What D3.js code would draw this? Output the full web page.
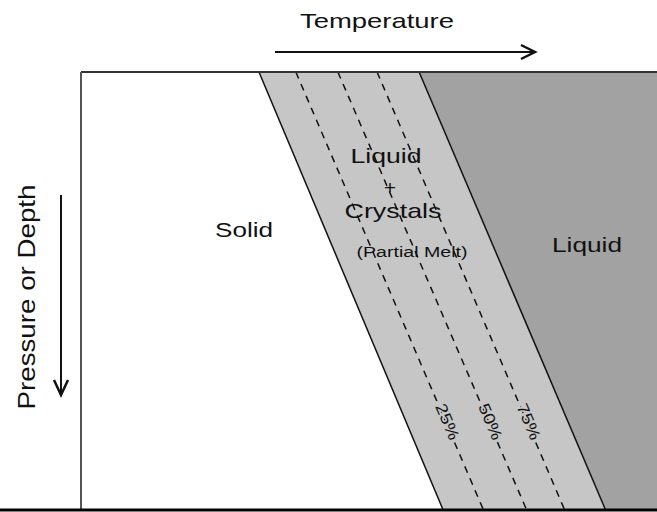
<!DOCTYPE html>
<html>
<head>
<meta charset="utf-8">
<script src="https://cdn.jsdelivr.net/npm/d3@7"></script>
<style>
    body { margin: 0; background: #fff; }
    text { font-family: "Liberation Sans", Arial, sans-serif; fill: #111; }
</style>
</head>
<body>
<div id="chart"></div>
<script>
// Melt fraction isopleths (0 = solidus, 100 = liquidus)
const meltFractions = [0, 25, 50, 75, 100];
// Temperature (0-100 scale) of each isopleth at the surface and at max depth
const isoTempTop = [30.9, 37.3, 44.6, 51.4, 58.7];
const isoTempBottom = [62.8, 69.8, 77.3, 83.9, 91.0];
const meltLabels = ["25%", "50%", "75%"];

const width = 657;
const height = 512;

const svg = d3.select("#chart").append("svg")
    .attr("width", width)
    .attr("height", height);

// Scales: temperature to the right, depth downwards
const x = d3.scaleLinear().domain([0, 100]).range([81, 657]);
const y = d3.scaleLinear().domain([0, 100]).range([72, 509]);

const lightGrey = "#c6c6c6";
const darkGrey = "#a2a2a2";

// Temperature of isopleth i at depth d
function isoAt(i, d) {
    return isoTempTop[i] + (isoTempBottom[i] - isoTempTop[i]) * d / 100;
}

const last = meltFractions.length - 1;

// Liquid field (right of liquidus)
svg.append("path")
    .attr("d", d3.line()([
        [x(isoTempTop[last]), y(0)], [x(100), y(0)],
        [x(100), y(100)], [x(isoTempBottom[last]), y(100)]
    ]))
    .attr("fill", darkGrey);

// Partial melt band
svg.append("path")
    .attr("d", d3.line()([
        [x(isoTempTop[0]), y(0)], [x(isoTempTop[last]), y(0)],
        [x(isoTempBottom[last]), y(100)], [x(isoTempBottom[0]), y(100)]
    ]))
    .attr("fill", lightGrey);

// Isopleths
svg.selectAll(".iso")
    .data(meltFractions)
    .enter()
    .append("line")
    .attr("class", "iso")
    .attr("x1", (d, i) => x(isoTempTop[i]))
    .attr("y1", y(0))
    .attr("x2", (d, i) => x(isoTempBottom[i]))
    .attr("y2", y(100))
    .attr("stroke", "#111")
    .attr("stroke-width", 1.5)
    .attr("stroke-dasharray", (d, i) => (i === 0 || i === last) ? null : "7,6");

// Percent labels along the dashed lines
const angle = Math.atan2(y(100) - y(0), x(isoTempBottom[0]) - x(isoTempTop[0])) * 180 / Math.PI;
const labelDepth = 80;
svg.selectAll(".meltLabel")
    .data(meltLabels)
    .enter()
    .append("text")
    .attr("class", "meltLabel")
    .attr("transform", (d, i) => "translate(" + (x(isoAt(i + 1, labelDepth)) + 2) + "," + y(labelDepth) + ") rotate(" + angle + ")")
    .attr("text-anchor", "middle")
    .attr("dy", "0.35em")
    .attr("font-size", 16)
    .attr("textLength", 38)
    .attr("lengthAdjust", "spacingAndGlyphs")
    .attr("stroke", lightGrey)
    .attr("stroke-width", 3)
    .attr("paint-order", "stroke")
    .text(d => d);

// Frame: top, left, bottom
svg.append("line")
    .attr("x1", x(0)).attr("y1", y(0)).attr("x2", x(100)).attr("y2", y(0))
    .attr("stroke", "#333").attr("stroke-width", 2);
svg.append("line")
    .attr("x1", x(0)).attr("y1", y(0)).attr("x2", x(0)).attr("y2", y(100))
    .attr("stroke", "#555").attr("stroke-width", 2);
svg.append("line")
    .attr("x1", 0).attr("y1", y(100) + 1).attr("x2", width).attr("y2", y(100) + 1)
    .attr("stroke", "#000").attr("stroke-width", 3);

// Field labels
function label(str, cx, cy, size, len) {
    svg.append("text")
        .attr("x", cx)
        .attr("y", cy)
        .attr("text-anchor", "middle")
        .attr("font-size", size)
        .attr("textLength", len)
        .attr("lengthAdjust", "spacingAndGlyphs")
        .text(str);
}
label("Temperature", 377, 28, 21, 154);
label("Solid", 244, 237, 21, 58);
label("Liquid", 587, 252, 21, 70);
label("Liquid", 386, 163, 21, 71);
label("+", 390, 194, 19, 12);
label("Crystals", 393, 218, 21, 97);
label("(Partial Melt)", 412, 257, 14, 111);

// Pressure label (vertical)
svg.append("text")
    .attr("transform", "translate(35,297) rotate(-90)")
    .attr("text-anchor", "middle")
    .attr("font-size", 24)
    .attr("textLength", 225)
    .attr("lengthAdjust", "spacingAndGlyphs")
    .text("Pressure or Depth");

// Temperature arrow
svg.append("line")
    .attr("x1", 275).attr("y1", 52).attr("x2", 534).attr("y2", 52)
    .attr("stroke", "#111").attr("stroke-width", 2);
svg.append("path")
    .attr("d", "M521,45L535,52L521,59")
    .attr("fill", "none").attr("stroke", "#111").attr("stroke-width", 2.5);

// Depth arrow
svg.append("line")
    .attr("x1", 61).attr("y1", 195).attr("x2", 61).attr("y2", 393)
    .attr("stroke", "#111").attr("stroke-width", 2);
svg.append("path")
    .attr("d", "M54,380L61,395L68,380")
    .attr("fill", "none").attr("stroke", "#111").attr("stroke-width", 2.5);
</script>
</body>
</html>
